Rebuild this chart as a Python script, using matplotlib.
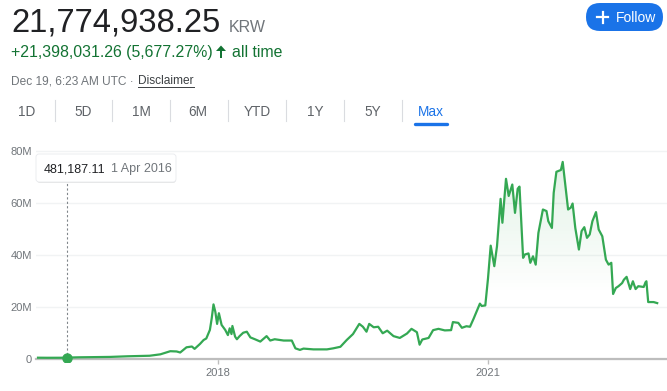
import numpy as np
import matplotlib.pyplot as plt
from matplotlib.colors import to_rgb
from matplotlib.patches import FancyBboxPatch, Polygon
from matplotlib.ticker import FuncFormatter

plt.rcParams['font.family'] = ['Liberation Sans', 'DejaVu Sans']

# price history: decimal year / price in million KRW
dates = [2016.00, 2016.10, 2016.25, 2016.45, 2016.60, 2016.80,
         2017.00, 2017.12, 2017.24, 2017.36, 2017.47, 2017.54, 2017.58, 2017.65, 2017.71,
         2017.74, 2017.80, 2017.84, 2017.87, 2017.91, 2017.93, 2017.95, 2017.97, 2017.99,
         2018.01, 2018.04, 2018.08, 2018.11, 2018.13, 2018.15, 2018.16, 2018.19, 2018.21,
         2018.24, 2018.28, 2018.32, 2018.36, 2018.41, 2018.47, 2018.54, 2018.58, 2018.63,
         2018.73, 2018.82, 2018.86, 2018.91, 2018.95,
         2019.06, 2019.21, 2019.28, 2019.36, 2019.43, 2019.50, 2019.57, 2019.61, 2019.65,
         2019.68, 2019.73, 2019.78, 2019.83, 2019.88, 2019.95,
         2020.02, 2020.10, 2020.15, 2020.21, 2020.24, 2020.27, 2020.34, 2020.39, 2020.45,
         2020.52, 2020.59, 2020.61, 2020.67, 2020.71, 2020.76, 2020.80, 2020.84, 2020.89,
         2020.91, 2020.93, 2020.97,
         2021.00, 2021.03, 2021.07, 2021.10, 2021.14, 2021.16, 2021.20, 2021.23, 2021.27,
         2021.30, 2021.33, 2021.35, 2021.39, 2021.41, 2021.45, 2021.47, 2021.50, 2021.53,
         2021.56, 2021.61, 2021.65, 2021.67, 2021.71, 2021.73, 2021.76, 2021.81, 2021.83,
         2021.86, 2021.89, 2021.92, 2021.94, 2021.97,
         2022.01, 2022.04, 2022.07, 2022.10, 2022.13, 2022.16, 2022.20, 2022.23, 2022.27,
         2022.31, 2022.34, 2022.37, 2022.39, 2022.42, 2022.45, 2022.49, 2022.51, 2022.54,
         2022.58, 2022.61, 2022.64, 2022.67, 2022.73, 2022.75, 2022.76, 2022.78, 2022.84,
         2022.88]
prices_m = [0.50, 0.47, 0.48, 0.65, 0.72, 0.80,
            1.05, 1.15, 1.25, 1.8, 3.0, 2.9, 2.5, 4.5, 4.8,
            3.9, 5.8, 7.3, 7.9, 11.2, 15.6, 21.0, 18.2, 13.5,
            17.6, 13.1, 11.2, 9.2, 11.8, 9.6, 12.7, 8.6, 7.6,
            8.8, 10.1, 10.5, 8.3, 7.6, 6.7, 8.8, 7.1, 7.6,
            7.1, 7.1, 4.1, 3.5, 4.0,
            3.7, 3.7, 4.1, 4.7, 7.3, 9.6, 13.5, 12.4, 10.5,
            13.5, 12.2, 12.4, 9.9, 10.9, 8.8,
            8.1, 9.8, 11.6, 10.3, 5.5, 7.5, 8.1, 11.1, 11.6,
            11.0, 11.1, 14.2, 13.9, 12.0, 12.6, 12.4, 15.5, 19.7,
            21.3, 20.4, 20.6,
            31.0, 43.6, 35.7, 43.4, 61.6, 52.4, 69.3, 62.7, 67.1,
            56.2, 65.5, 66.3, 38.9, 40.2, 40.6, 37.0, 39.5, 36.3,
            48.5, 57.5, 56.9, 53.0, 50.4, 63.9, 72.0, 72.7, 75.8,
            66.5, 57.5, 58.2, 59.8, 50.4,
            42.1, 49.2, 50.7, 46.6, 47.9, 53.0, 56.5, 49.8, 47.2,
            38.2, 36.3, 37.0, 25.0, 27.3, 28.0, 29.2, 30.5, 31.6,
            26.9, 29.9, 26.9, 28.0, 27.7, 29.5, 29.9, 21.9, 21.9,
            21.5]

year_ticks = [2018, 2021]
year_labels = ['2018', '2021']
price_ticks = [0, 20, 40, 60, 80]

# hovered point (position as it sits on the chart)
hl_date = 2016.32
hl_price = 0.481187
hl_value_text = '481,187.11'
hl_date_text = '1 Apr 2016'

last_price = '21,774,938.25'
currency = 'KRW'
change_text = '+21,398,031.26 (5,677.27%)'
period_text = 'all time'
stamp_text = 'Dec 19, 6:23 AM UTC · '
disclaimer = 'Disclaimer'
ranges = ['1D', '5D', '1M', '6M', 'YTD', '1Y', '5Y', 'Max']
range_x = [27, 83, 141, 198, 257, 315, 373, 431]

GREEN = '#34a853'
TXT_GREEN = '#137333'
GRAY = '#70757a'
BLUE = '#1a73e8'

W, H = 667, 391
fig = plt.figure(figsize=(W / 100, H / 100), dpi=100)


def px_box(l, t, r, b):
    return [l / W, 1 - b / H, (r - l) / W, (b - t) / H]


# chart
ax = fig.add_axes(px_box(36, 145, 667, 362))
ax.plot(dates, prices_m, color=GREEN, lw=1.6, zorder=3, solid_joinstyle='round')

fill = ax.fill_between(dates, prices_m, 0, facecolor='none', edgecolor='none')
lev = np.linspace(0, 82, 256)
grad = np.zeros((256, 1, 4))
grad[..., :3] = to_rgb(GREEN)
grad[:, 0, 3] = np.clip((lev - 25) / 55, 0, 1) * 0.16
im = ax.imshow(grad, extent=[dates[0], dates[-1], 0, 82], origin='lower',
               aspect='auto', zorder=2)
im.set_clip_path(fill.get_paths()[0], transform=ax.transData)

ax.vlines(hl_date, 0, (359 - 182) / 2.6, colors='#80868b',
          linestyles=(0, (2, 2)), lw=0.8, zorder=3)
ax.plot(hl_date, hl_price, 'o', ms=6.5, color=GREEN, zorder=4)

ax.set_xlim(2018 + (36 - 218) / 90, 2018 + (667 - 218) / 90)
ax.set_ylim(-(362 - 359) / 2.6, (359 - 145) / 2.6)

for s in ['top', 'right', 'left']:
    ax.spines[s].set_visible(False)
ax.spines['bottom'].set_position(('data', 0))
ax.spines['bottom'].set_color('#bdbdbd')
ax.spines['bottom'].set_linewidth(1.6)

ax.set_yticks(price_ticks)
ax.yaxis.set_major_formatter(FuncFormatter(lambda v, p: '0' if v == 0 else f'{v:.0f}M'))
ax.set_xticks(year_ticks)
ax.set_xticklabels(year_labels)
ax.tick_params(axis='y', length=0, pad=3, labelsize=8, labelcolor=GRAY)
ax.tick_params(axis='x', length=3.5, width=1, color='#bdbdbd', pad=3,
               labelsize=8, labelcolor=GRAY)
ax.yaxis.grid(True, color='#f1f3f4', lw=1)
ax.set_axisbelow(True)

# overlay in pixel coordinates for the page furniture
ov = fig.add_axes([0, 0, 1, 1], zorder=5)
ov.set_xlim(0, W)
ov.set_ylim(H, 0)
ov.axis('off')
ov.patch.set_alpha(0)

ov.text(11, 31.5, last_price, fontsize=23.6, color='#202124', va='baseline')
ov.text(229, 31.5, currency, fontsize=11.5, color=GRAY, va='baseline')
ov.text(11, 57, change_text, fontsize=11.4, color=TXT_GREEN, va='baseline')
ov.add_patch(Polygon([(216, 51), (221, 45.5), (226, 51)], closed=True,
                     color=TXT_GREEN, lw=0))
ov.add_patch(Polygon([(219.7, 50), (222.3, 50), (222.3, 57.5), (219.7, 57.5)],
                     closed=True, color=TXT_GREEN, lw=0))
ov.text(232, 57, period_text, fontsize=11.4, color=TXT_GREEN, va='baseline')

ov.text(11, 84.5, stamp_text, fontsize=8.6, color=GRAY, va='baseline')
ov.text(138, 84.5, disclaimer, fontsize=8.6, color='#3c4043', va='baseline')
ov.plot([138, 194], [87, 87], color='#3c4043', lw=0.7)

for i, (lab, x) in enumerate(zip(ranges, range_x)):
    ov.text(x, 116, lab, fontsize=9.8, ha='center', va='baseline',
            color=BLUE if lab == 'Max' else '#5f6368')
    if i < len(ranges) - 1:
        sx = (x + range_x[i + 1]) / 2
        ov.plot([sx, sx], [100, 121], color='#dadce0', lw=0.8)
ov.plot([415, 447], [123.5, 123.5], color=BLUE, lw=2.4, solid_capstyle='round')

# follow button
ov.add_patch(FancyBboxPatch((586, 3), 77, 28, boxstyle='round,pad=0,rounding_size=14',
                            facecolor=BLUE, edgecolor='none'))
ov.plot([597, 608], [17, 17], color='white', lw=1.6)
ov.plot([602.5, 602.5], [11.5, 22.5], color='white', lw=1.6)
ov.text(616, 21.5, 'Follow', fontsize=10, color='white', va='baseline')

# tooltip
ov.add_patch(FancyBboxPatch((37, 156), 139, 27, boxstyle='round,pad=0,rounding_size=3',
                            facecolor='black', alpha=0.10, edgecolor='none'))
ov.add_patch(FancyBboxPatch((36, 154), 140, 28, boxstyle='round,pad=0,rounding_size=3',
                            facecolor='white', edgecolor='#e8eaed', lw=0.6))
ov.text(44, 172, hl_value_text, fontsize=9, color='#202124', va='baseline')
ov.text(111, 172, hl_date_text, fontsize=9, color=GRAY, va='baseline')

fig.savefig('out.png', dpi=100)
